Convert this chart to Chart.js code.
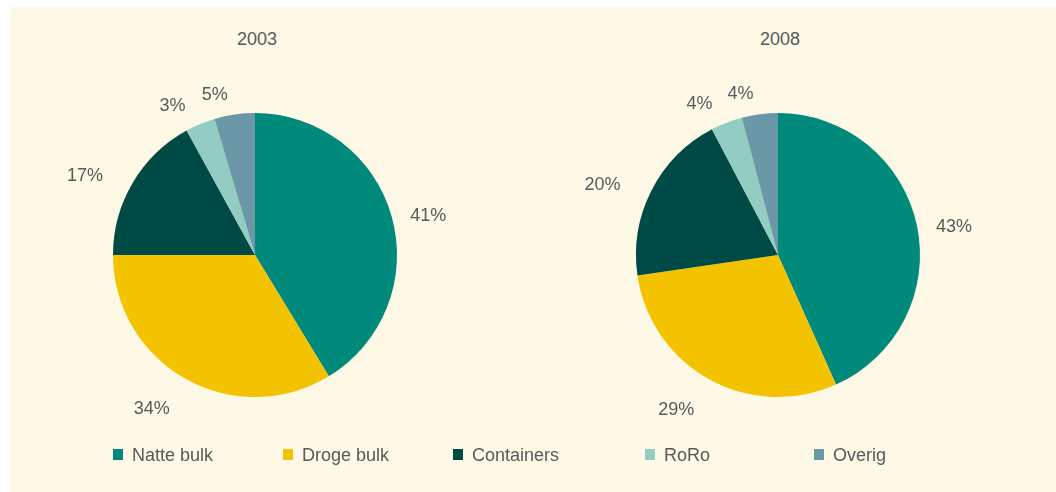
<!DOCTYPE html>
<html>
<head>
<meta charset="utf-8">
<script src="https://cdn.jsdelivr.net/npm/chart.js@4/dist/chart.umd.min.js"></script>
<style>
  html, body { margin: 0; padding: 0; background: #ffffff; }
  body { width: 1056px; height: 492px; position: relative; overflow: hidden;
         font-family: "Liberation Sans", Arial, sans-serif; color: #595959; }
  #panel { position: absolute; left: 11px; top: 7px; width: 1045px; height: 485px; background: #FEF8E7; }
  .title { position: absolute; top: 29px; font-size: 18px; line-height: 20px; width: 120px; text-align: center; }
  .cv { position: absolute; width: 400px; height: 400px; }
  #legend { position: absolute; left: 0; top: 444px; width: 1056px; height: 22px; }
  .li { position: absolute; top: 0; font-size: 18px; line-height: 22px; white-space: nowrap; }
  .li .sw { position: absolute; left: 0; top: 5px; width: 10px; height: 11px; }
  .li span.t { position: absolute; left: 19px; top: 0; }
</style>
</head>
<body>
<div id="panel"></div>
<div class="title" id="t1" style="left:197px;"></div>
<div class="title" id="t2" style="left:720px;"></div>
<div class="cv" style="left:55px; top:55px;"><canvas id="c1" width="400" height="400"></canvas></div>
<div class="cv" style="left:578px; top:55px;"><canvas id="c2" width="400" height="400"></canvas></div>
<div id="legend"></div>
<script>
// ---- data ----
const categories = ["Natte bulk", "Droge bulk", "Containers", "RoRo", "Overig"];
const years = ["2003", "2008"];
const values2003 = [41.3, 33.7, 17.0, 3.4, 4.6];
const values2008 = [43.3, 29.4, 19.6, 3.6, 4.1];

// ---- styles ----
const colors = ["#008A7B", "#F4C300", "#004A45", "#92CCC3", "#6B98A7"];
const textColor = "#595959";
const fontFamily = '"Liberation Sans", Arial, sans-serif';
const legendLefts = [113, 283, 453, 645, 814];

document.getElementById('t1').textContent = years[0];
document.getElementById('t2').textContent = years[1];

const pctLabels = {
  id: 'pctLabels',
  afterDatasetsDraw(chart) {
    const ctx = chart.ctx;
    const meta = chart.getDatasetMeta(0);
    const data = chart.data.datasets[0].data;
    ctx.save();
    ctx.font = '18px ' + fontFamily;
    ctx.fillStyle = textColor;
    ctx.textAlign = 'center';
    ctx.textBaseline = 'middle';
    meta.data.forEach((arc, i) => {
      const p = arc.getProps(['x', 'y', 'startAngle', 'endAngle', 'outerRadius'], true);
      const mid = (p.startAngle + p.endAngle) / 2;
      const ux = Math.cos(mid), uy = Math.sin(mid);
      const txt = Math.round(data[i]) + '%';
      const w = ctx.measureText(txt).width;
      const h = 14;
      const gap = 20;
      let px = p.x + (p.outerRadius + gap) * ux + (w / 2) * ux;
      let py = p.y + (p.outerRadius + gap) * uy + (h / 2) * uy + 7;
      if (ux < 0) px -= 15;
      ctx.fillText(txt, px, py);
    });
    ctx.restore();
  }
};

function makePie(id, values) {
  return new Chart(document.getElementById(id), {
    type: 'pie',
    data: {
      labels: categories,
      datasets: [{ data: values, backgroundColor: colors, borderWidth: 0, hoverOffset: 0 }]
    },
    options: {
      responsive: false,
      animation: false,
      events: [],
      layout: { padding: 58 },
      plugins: { legend: { display: false }, tooltip: { enabled: false }, title: { display: false } }
    },
    plugins: [pctLabels]
  });
}
makePie('c1', values2003);
makePie('c2', values2008);

const leg = document.getElementById('legend');
categories.forEach((c, i) => {
  const d = document.createElement('div');
  d.className = 'li';
  d.style.left = legendLefts[i] + 'px';
  const sw = document.createElement('div');
  sw.className = 'sw';
  sw.style.background = colors[i];
  const t = document.createElement('span');
  t.className = 't';
  t.textContent = c;
  d.appendChild(sw); d.appendChild(t);
  leg.appendChild(d);
});
</script>
</body>
</html>
